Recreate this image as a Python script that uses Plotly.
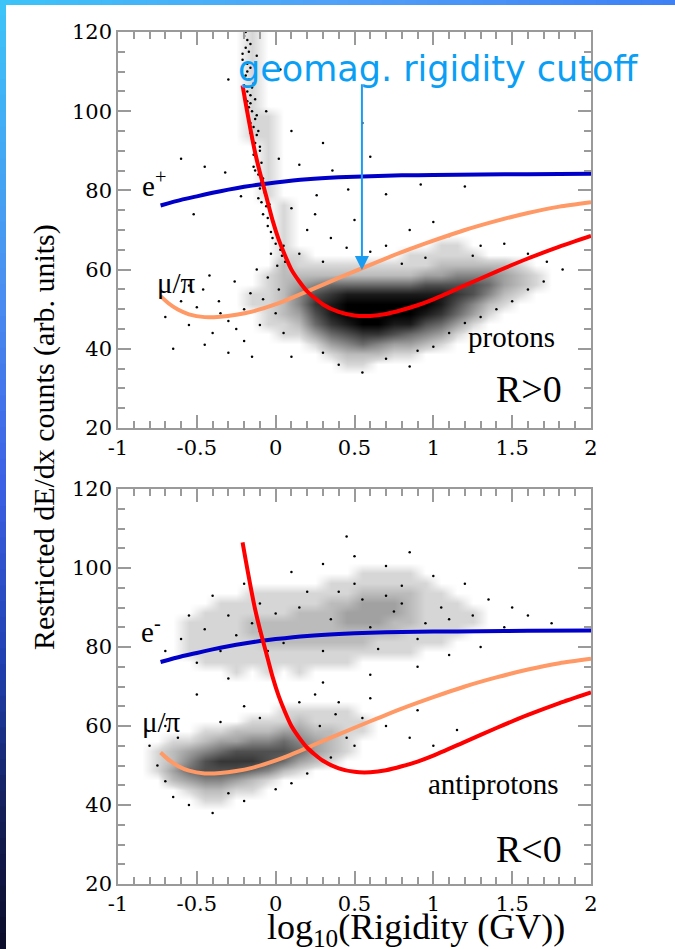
import plotly.graph_objects as go

# ---------------- data ----------------
X_TICKS = [-1, -0.5, 0, 0.5, 1, 1.5, 2]
X_TICK_LABELS = ["-1", "-0.5", "0", "0.5", "1", "1.5", "2"]
Y_TICKS = [20, 40, 60, 80, 100, 120]
Y_TICK_LABELS = ["20", "40", "60", "80", "100", "120"]

# expected bands (same in both panels)
E_X = [-0.73, -0.6, -0.5, -0.4, -0.3, -0.2, -0.1, 0.0, 0.2, 0.4, 0.6, 0.8, 1.0, 1.3, 1.6, 2.0]
E_Y = [76.2, 77.6, 78.5, 79.4, 80.2, 80.9, 81.5, 82.0, 82.8, 83.3, 83.6, 83.8, 83.9, 84.0, 84.1, 84.2]

MU_X = [-0.73, -0.68, -0.62, -0.55, -0.45, -0.35, -0.25, -0.15, -0.05, 0.05, 0.2, 0.4, 0.6, 0.8, 1.0, 1.2, 1.4, 1.6, 1.8, 2.0]
MU_Y = [53.3, 51.5, 49.9, 48.7, 48.0, 48.1, 48.6, 49.4, 50.6, 52.0, 54.5, 57.9, 61.2, 64.4, 67.3, 70.0, 72.3, 74.3, 75.9, 77.0]

P_X = [-0.21, -0.19, -0.16, -0.13, -0.1, -0.06, -0.02, 0.02, 0.06, 0.1, 0.15, 0.2, 0.3, 0.4, 0.5, 0.6, 0.7, 0.8, 0.9, 1.0, 1.2, 1.4, 1.6, 1.8, 2.0]
P_Y = [106.5, 102.0, 95.5, 89.5, 84.5, 78.5, 72.5, 67.5, 63.5, 60.0, 57.0, 54.5, 51.2, 49.3, 48.4, 48.3, 48.8, 49.8, 51.0, 52.5, 56.0, 59.5, 62.8, 65.8, 68.5]

# event density: columns = 0.1 wide bins from x=-1,
# rows = 2.5 wide bins from y=120 (top) down to y=20; 0 = empty, 9 = solid black
TOP_DENSITY = [
    "0000000010 0000000000 0000000000",
    "0000000010 0000000000 0000000000",
    "0000000010 0000000000 0000000000",
    "0000000010 0000000000 0000000000",
    "0000000010 0000000000 0000000000",
    "0000000010 0000000000 0000000000",
    "0000000010 0000000000 0000000000",
    "0000000010 0000000000 0000000000",
    "0000000011 0000000000 0000000000",
    "0000000011 0000000000 0000000000",
    "0000000011 0000000000 0000000000",
    "0000000001 0000000000 0000000000",
    "0000000001 0000000000 0000000000",
    "0000000001 0000000000 0000000000",
    "0000000001 0000000000 0000000000",
    "0000000001 0000000000 0000000000",
    "0000000001 0000000000 0000000000",
    "0000000000 1000000000 0000000000",
    "0000000000 1000000000 0000000000",
    "0000000000 1000000000 0000000000",
    "0000000000 1000000000 0000000000",
    "0000000000 1000000000 1100000000",
    "0000000000 1100000011 1110000000",
    "0000000000 2111111111 2222210000",
    "0000000001 2222222223 3444321000",
    "0000000001 2345555556 6665321000",
    "0000000011 2467888888 8764210000",
    "0000000011 2478999999 8642100000",
    "0000000001 2368999998 7531000000",
    "0000000001 1257899886 5310000000",
    "0000000000 1135677654 3100000000",
    "0000000000 0013454332 1000000000",
    "0000000000 0001222110 0000000000",
    "0000000000 0000110000 0000000000",
    "0000000000 0000000000 0000000000",
    "0000000000 0000000000 0000000000",
    "0000000000 0000000000 0000000000",
    "0000000000 0000000000 0000000000",
    "0000000000 0000000000 0000000000",
    "0000000000 0000000000 0000000000",
]

BOTTOM_DENSITY = [
    "0000000000 0000000000 0000000000",
    "0000000000 0000000000 0000000000",
    "0000000000 0000000000 0000000000",
    "0000000000 0000000000 0000000000",
    "0000000000 0000000000 0000000000",
    "0000000000 0000000000 0000000000",
    "0000000000 0000000000 0000000000",
    "0000000000 0000000000 0000000000",
    "0000000000 0000011110 0000000000",
    "0000000000 0001111111 0000000000",
    "0000000011 1111122221 1000000000",
    "0000001111 1112233321 1100000000",
    "0000011111 1222333321 1110000000",
    "0000111122 2222333221 1110000000",
    "0000111122 2222222211 1100000000",
    "0000111112 2222221111 1000000000",
    "0000111111 1111111110 0000000000",
    "0000011111 1111100000 0000000000",
    "0000000101 0100000000 0000000000",
    "0000000000 0000000000 0000000000",
    "0000000000 0000000000 0000000000",
    "0000000000 0000000000 0000000000",
    "0000000000 1111100000 0000000000",
    "0000000011 1211110000 0000000000",
    "0000011222 3322110000 0000000000",
    "0001123344 5432100000 0000000000",
    "0012345666 6532100000 0000000000",
    "0012467776 5321000000 0000000000",
    "0013566654 2100000000 0000000000",
    "0002344321 0000000000 0000000000",
    "0000122110 0000000000 0000000000",
    "0000011000 0000000000 0000000000",
    "0000000000 0000000000 0000000000",
    "0000000000 0000000000 0000000000",
    "0000000000 0000000000 0000000000",
    "0000000000 0000000000 0000000000",
    "0000000000 0000000000 0000000000",
    "0000000000 0000000000 0000000000",
    "0000000000 0000000000 0000000000",
    "0000000000 0000000000 0000000000",
]

# isolated events outside the dense regions
TOP_DOTS_X = [-0.45, -0.32, -0.22, 0.02, 0.15, 0.36, 0.6, 0.92, -0.04, 0.26, 0.46, -0.52, 0.1, -0.3, 0.03, -0.06, 0.1, 0.3, 0.55, -0.12, 0.7, 1.2, -0.6,
              0.2, 0.35, 0.5, 0.7, 0.85, 1.1, 1.3, 0.15, 0.3, 0.6, 0.95, 1.6, 1.72, 1.45, 0.45, 0.05, 1.0, 1.25, 0.8, 0.25,
              -0.6, -0.55, -0.5, -0.46, -0.4, -0.36, -0.3, -0.26, -0.2, -0.16, -0.1, -0.05, 0.0, 0.05, -0.65, -0.3, 0.1, -0.7, -0.2, -0.42, -0.12, -0.55, -0.35, -0.08, -0.25, 0.02, -0.15, -0.45,
              0.4, 0.7, 0.55, 0.9, 1.1, 1.3, 1.5, 1.7, 1.82, 0.3, 1.2, 1.0, 0.85, 1.4, 1.6]
TOP_DOTS_Y = [86, 84.5, 78.5, 88, 86.5, 85, 88.5, 81.5, 76.5, 78.8, 80.2, 74, 75.5, 108, 110.5, 100, 95, 92, 97, 114, 79, 81, 88,
              70, 68, 72.5, 66, 70, 68.5, 66, 64, 62, 64.5, 63, 64, 62, 66.5, 65.5, 66, 72, 63.5, 61.5, 74,
              52, 46, 50.5, 55, 44, 52, 47, 57, 50, 54, 46, 58, 49, 44, 40, 39, 38, 48, 42, 58.5, 60, 56, 49, 52.5, 45, 55, 38, 41,
              36, 37.5, 34, 39.5, 44, 48, 52, 57, 60, 39, 46.5, 40.5, 35.5, 50, 55]

# low-rigidity streak of events next to the proton curve (top panel)
STREAK_X = [-0.20, -0.18, -0.19, -0.17, -0.21, -0.18, -0.16, -0.19, -0.17, -0.14, -0.18, -0.16, -0.13, -0.17, -0.15,
            -0.12, -0.16, -0.14, -0.11, -0.15, -0.13, -0.10, -0.14, -0.12, -0.09, -0.13, -0.11, -0.08, -0.12, -0.10,
            -0.07, -0.11, -0.09, -0.06, -0.08, -0.05, -0.05, -0.03, -0.02, 0.00, 0.03, 0.04, -0.03, 0.06, 0.01,
            -0.19, -0.16, -0.18, -0.15, -0.16, -0.13, -0.12, -0.10, -0.14, -0.09, -0.21, -0.20, -0.18, -0.16, -0.11]
STREAK_Y = [119, 118, 116, 115, 113, 112, 111, 109, 108, 107, 105, 104, 103, 101, 100,
            99, 97, 96, 95, 93, 92, 91, 89, 88, 87, 85, 84, 83, 81.5, 80.5,
            79.5, 78, 77, 76, 74, 73, 71, 69.5, 68, 66.5, 65, 63.5, 64, 62, 61,
            120, 117, 110, 106, 102, 98, 94, 90, 86, 82, 114.5, 106.5, 102.5, 94.5, 86.5]

BOTTOM_DOTS_X = [-0.6, -0.55, -0.7, -0.4, -0.2, 0.1, 0.3, 0.5, 0.7, 0.85, 1.0, 1.2, 1.35, 1.5, 1.45, 1.6, 1.3, 1.1, 0.9, 0.6, 0.3, 0.0, -0.3, -0.5, 0.45, -0.1, 1.75, -0.45, -0.35, 0.2, 0.8, 1.25, 1.05, 0.65, -0.15, 0.05,
                 -0.5, -0.2, 0.4, 0.55, 0.7, 0.85, 1.0, 0.6, -0.7, -0.8, 0.25, 0.9, 1.15,
                 -0.75, -0.7, -0.65, -0.55, -0.4, -0.2, 0.0, 0.2, 0.35, 0.45, -0.1, -0.35, 0.15, -0.62, 0.28, 0.1, -0.3, 0.5, 0.38,
                 -0.3, -0.1, 0.15, 0.35, 0.55, 0.75, 0.95, 0.4, 0.6, 0.8, 0.0, 0.25, -0.25, 1.1, 0.5, 0.7, 0.9, -0.05, 0.3]
BOTTOM_DOTS_Y = [82, 88, 79, 93, 96, 99, 101, 103, 100.5, 104, 98, 96, 92, 90, 85, 88, 80, 78, 75, 73, 71, 70, 72, 76, 108, 91, 86, 84.5, 79, 94, 95.5, 88, 90, 79.5, 86, 81,
                 68, 65, 66, 62, 60, 57, 55, 67, 60, 55, 68, 64, 59,
                 50, 46, 42, 40, 38, 41, 44, 48, 52, 57, 62, 61, 66, 57, 60, 45.5, 43, 55, 63,
                 88, 84, 90, 87, 92, 89, 86, 94, 85, 91, 88.5, 83, 83, 87, 96, 93, 82, 79, 79]

# ---------------- styling ----------------
W, H = 675, 949
ML, MR, MT, MB = 118, 84, 32, 65
PW, PH = W - ML - MR, H - MT - MB
AX_COLOR = "#9a9a9a"
SERIF = "Liberation Serif"
TICK_FONT = dict(family="DejaVu Serif", size=21, color="black")


def grid(rows):
    out = []
    for r in rows:
        s = r.replace(" ", "")
        assert len(s) == 30, s
        out.append([int(c) for c in s])
    return out[::-1]  # bottom row first


def px_x(p):
    return (p - ML) / PW


def px_y(p):
    return (H - MB - p) / PH


DENS_SCALE = [[0, "rgba(0,0,0,0)"], [1 / 9, "rgba(0,0,0,0.16)"], [1, "rgba(0,0,0,1)"]]

fig = go.Figure()

panels = [
    (TOP_DENSITY, TOP_DOTS_X + STREAK_X, TOP_DOTS_Y + STREAK_Y, "x", "y"),
    (BOTTOM_DENSITY, BOTTOM_DOTS_X, BOTTOM_DOTS_Y, "x2", "y2"),
]
for dens, dx_, dy_, xa, ya in panels:
    fig.add_trace(go.Heatmap(z=grid(dens), x0=-0.95, dx=0.1, y0=21.25, dy=2.5,
                             zmin=0, zmax=9, colorscale=DENS_SCALE, zsmooth="best",
                             showscale=False, hoverinfo="skip", xaxis=xa, yaxis=ya))
    fig.add_trace(go.Scatter(x=dx_, y=dy_, mode="markers",
                             marker=dict(color="black", size=2.5),
                             hoverinfo="skip", xaxis=xa, yaxis=ya))
    for cx, cy, col in [(E_X, E_Y, "#0000c8"), (MU_X, MU_Y, "#ff9966"), (P_X, P_Y, "#ff0000")]:
        fig.add_trace(go.Scatter(x=cx, y=cy, mode="lines",
                                 line=dict(color=col, width=4, shape="spline", smoothing=0.6),
                                 hoverinfo="skip", xaxis=xa, yaxis=ya))


def xaxis_cfg(anchor):
    return dict(anchor=anchor, domain=[0, 1], range=[-1, 2],
                tickmode="array", tickvals=X_TICKS, ticktext=X_TICK_LABELS,
                ticks="inside", ticklen=13, tickwidth=1.5, tickcolor=AX_COLOR,
                minor=dict(tickmode="linear", tick0=-1, dtick=0.1, ticks="inside",
                           ticklen=7, tickwidth=1.5, tickcolor=AX_COLOR, showgrid=False),
                showline=True, linecolor=AX_COLOR, linewidth=1.5, mirror="allticks",
                showgrid=False, zeroline=False, tickfont=TICK_FONT)


def yaxis_cfg(anchor, dom):
    return dict(anchor=anchor, domain=dom, range=[20, 120],
                tickmode="array", tickvals=Y_TICKS, ticktext=Y_TICK_LABELS,
                ticks="inside", ticklen=13, tickwidth=1.5, tickcolor=AX_COLOR,
                minor=dict(tickmode="linear", tick0=20, dtick=5, ticks="inside",
                           ticklen=7, tickwidth=1.5, tickcolor=AX_COLOR, showgrid=False),
                showline=True, linecolor=AX_COLOR, linewidth=1.5, mirror="allticks",
                showgrid=False, zeroline=False, tickfont=TICK_FONT)


top_dom = [px_y(428), 1.0]
bot_dom = [0.0, px_y(489)]

ann = []


def label(text, x, y, xa, ya, size, family=SERIF, color="black"):
    ann.append(dict(text=text, x=x, y=y, xref=xa, yref=ya, showarrow=False,
                    xanchor="center", yanchor="middle",
                    font=dict(family=family, size=size, color=color)))


label("e<sup>+</sup>", -0.77, 81.6, "x", "y", 29)
label("μ/π", -0.626, 56.6, "x", "y", 29)
label("protons", 1.498, 43.0, "x", "y", 29)
label("R>0", 1.606, 29.8, "x", "y", 38)
label("e<sup>-</sup>", -0.79, 84.4, "x2", "y2", 29)
label("μ/π", -0.721, 60.9, "x2", "y2", 29)
label("antiprotons", 1.384, 45.3, "x2", "y2", 29)
label("R<0", 1.606, 28.8, "x2", "y2", 38)

label("geomag. rigidity cutoff", 1.03, 110.7, "x", "y", 35, family="DejaVu Sans", color="#0a9ff5")
ann.append(dict(x=0.547, y=59.9, ax=0.547, ay=107.2, xref="x", yref="y", axref="x", ayref="y",
                showarrow=True, arrowhead=2, arrowsize=1.4, arrowwidth=2, arrowcolor="#1a9cf0", text=""))

ann.append(dict(text="Restricted dE/dx counts (arb. units)", x=px_x(44), y=px_y(437),
                xref="paper", yref="paper", showarrow=False, textangle=-90,
                xanchor="center", yanchor="middle",
                font=dict(family=SERIF, size=30, color="black")))
ann.append(dict(text="log<sub>10</sub>(Rigidity (GV))", x=px_x(416), y=px_y(929),
                xref="paper", yref="paper", showarrow=False,
                xanchor="center", yanchor="middle",
                font=dict(family=SERIF, size=36, color="black")))

# slide frame: gradient strips along the left and top edges
def lerp_col(stops, t):
    for (t0, c0), (t1, c1) in zip(stops[:-1], stops[1:]):
        if t0 <= t <= t1:
            f = (t - t0) / (t1 - t0) if t1 > t0 else 0
            c = [round(a + (b - a) * f) for a, b in zip(c0, c1)]
            return "rgb(%d,%d,%d)" % tuple(c)
    return "rgb(%d,%d,%d)" % stops[-1][1]


LEFT_STOPS = [(0.0, (60, 196, 248)), (0.3, (74, 144, 240)), (0.5, (61, 98, 230)),
              (0.7, (32, 64, 176)), (0.85, (20, 32, 90)), (1.0, (12, 12, 40))]
TOP_STOPS = [(0.0, (60, 196, 248)), (0.5, (80, 160, 248)), (1.0, (61, 128, 245))]

shapes = []
N = 60
for i in range(N):
    y0p, y1p = H * i / N, H * (i + 1) / N + 1
    shapes.append(dict(type="rect", xref="paper", yref="paper", layer="above",
                       x0=px_x(0), x1=px_x(6), y0=px_y(y1p), y1=px_y(y0p),
                       line=dict(width=0), fillcolor=lerp_col(LEFT_STOPS, (i + 0.5) / N)))
for i in range(N):
    x0p, x1p = W * i / N, W * (i + 1) / N + 1
    shapes.append(dict(type="rect", xref="paper", yref="paper", layer="above",
                       x0=px_x(x0p), x1=px_x(x1p), y0=px_y(5), y1=px_y(0),
                       line=dict(width=0), fillcolor=lerp_col(TOP_STOPS, (i + 0.5) / N)))

fig.update_layout(
    width=W, height=H, margin=dict(l=ML, r=MR, t=MT, b=MB),
    paper_bgcolor="white", plot_bgcolor="white", showlegend=False,
    xaxis=xaxis_cfg("y"), yaxis=yaxis_cfg("x", top_dom),
    xaxis2=xaxis_cfg("y2"), yaxis2=yaxis_cfg("x2", bot_dom),
    annotations=ann, shapes=shapes,
)

fig.write_html("out.html", config={"displayModeBar": False},
               post_script="document.body.style.margin='0';document.body.style.overflow='hidden';")
